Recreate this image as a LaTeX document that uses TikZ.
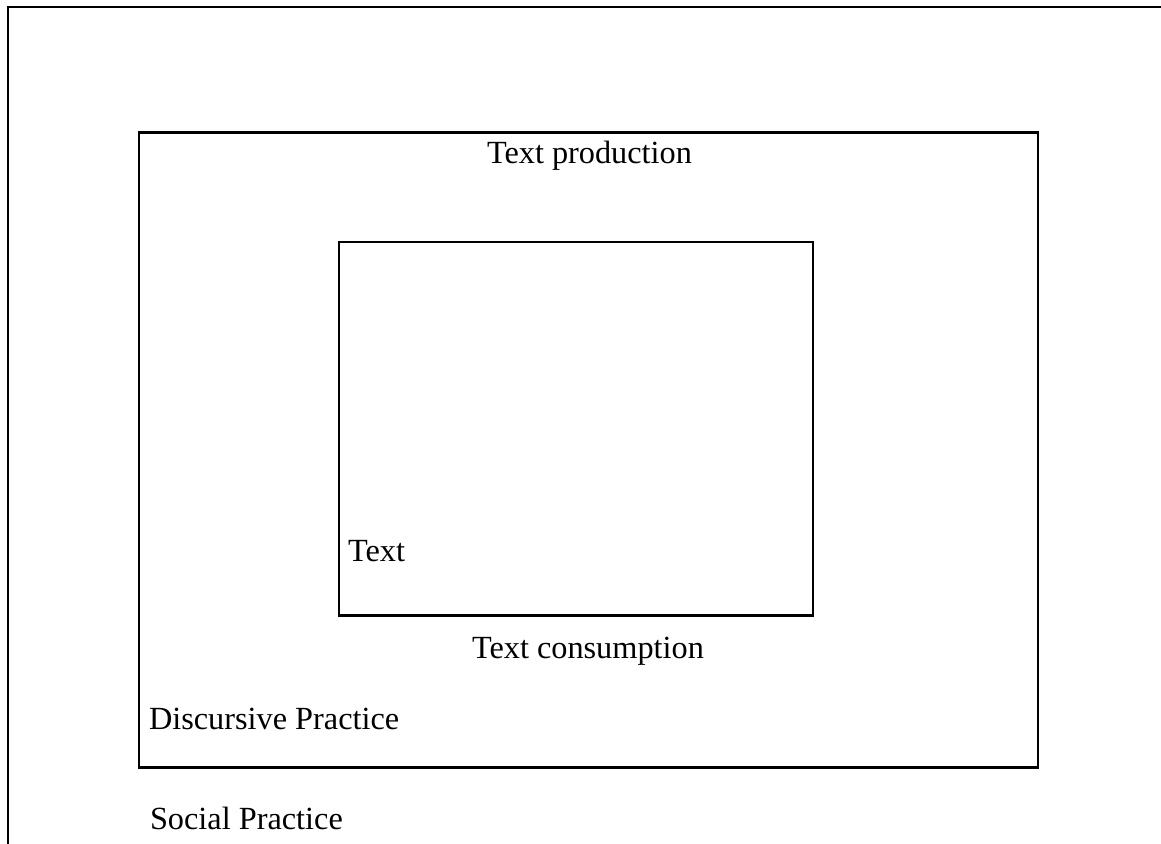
\documentclass[tikz,border=0pt]{standalone}
\usepackage{fontspec}
\setmainfont{Liberation Serif}
\begin{document}
\begin{tikzpicture}[x=1pt,y=-1pt,
  frame/.style={draw=black,line width=2.2pt},
  lbl/.style={inner sep=0pt,outer sep=0pt,anchor=base west,font=\fontsize{32.3}{37}\selectfont}]
\useasboundingbox (0,0) rectangle (1161,843);
\fill[white] (0,0) rectangle (1161,843);
% outer (social practice) frame, cut off at right and bottom
\draw[frame] (8,845) -- (8,7) -- (1163,7);
% discursive practice box
\draw[frame] (139,132.5) rectangle (1038,767.5);
% text box
\draw[frame] (339,242) rectangle (813,615.5);
\node[lbl] (prod) at (487,163.5) {Text production};
\node[lbl] (txt) at (348,561.5) {Text};
\node[lbl] (cons) at (472,658) {Text consumption};
\node[lbl] (disc) at (149,729) {Discursive Practice};
\node[lbl] (soc) at (150,829.5) {Social Practice};
\end{tikzpicture}
\end{document}
